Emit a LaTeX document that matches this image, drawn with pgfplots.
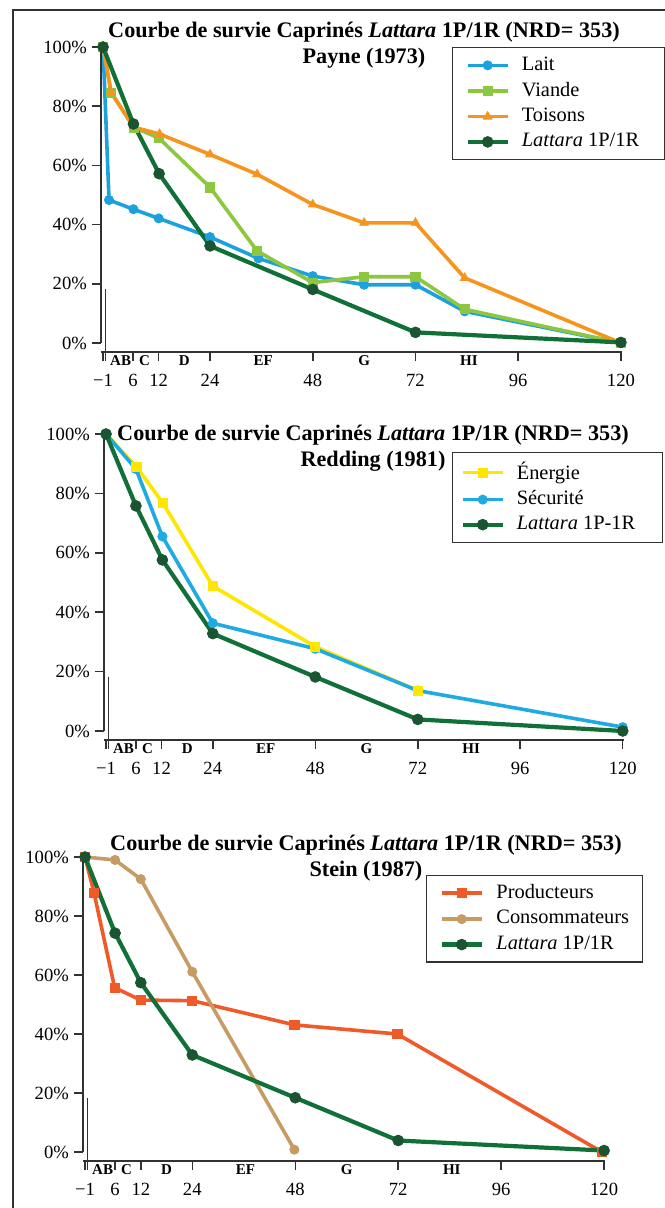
\documentclass[border=0pt]{standalone}
\usepackage{fontspec}
\setmainfont{Liberation Serif}
\usepackage{pgfplots}
\pgfplotsset{compat=1.18}

\definecolor{lait}{RGB}{29,161,222}
\definecolor{viande}{RGB}{141,198,63}
\definecolor{toison}{RGB}{247,148,29}
\definecolor{latt}{RGB}{16,112,56}
\definecolor{lattm}{RGB}{26,84,48}
\definecolor{energie}{RGB}{255,230,0}
\definecolor{secu}{RGB}{32,170,226}
\definecolor{prod}{RGB}{240,90,40}
\definecolor{cons}{RGB}{198,156,100}
\definecolor{axisgray}{RGB}{50,50,50}

\pgfplotsset{
  survie/.style={
    scale only axis, clip=false,
    xmin=-1.5, xmax=120.3, ymin=-3, ymax=100,
    axis x line*=bottom, axis y line*=left,
    y axis line style={draw=none},
    x axis line style={draw=axisgray, line width=0.75pt, -},
    tick align=outside,
    major tick length=4.5pt,
    tick style={draw=axisgray, line width=0.75pt},
    xtick={-1,6,12,24,48,72,96,120},
    xticklabels={−1,6,12,24,48,72,96,120},
    extra x ticks={-0.4}, extra x tick labels={},
    ytick={0,20,40,60,80,100},
    yticklabels={0\%,20\%,40\%,60\%,80\%,100\%},
    ticklabel style={font=\fontsize{9.3}{10}\selectfont, text=black},
    yticklabel style={xshift=1pt},
    xticklabel style={yshift=-3pt},
    legend cell align=left,
    legend style={draw=axisgray, line width=0.6pt, font=\fontsize{10.2}{12}\selectfont,
      anchor=north west, nodes={inner sep=0pt, text depth=0.2em}, column sep=6pt,
      inner xsep=6.5pt, inner ysep=4.5pt, row sep=3.9pt},
    legend image code/.code={\draw[mark repeat=2,mark phase=2] plot coordinates {(0pt,0pt)(10pt,0pt)(20pt,0pt)};},
    title style={font=\bfseries\fontsize{11.1}{13}\selectfont, align=center, anchor=center, yshift=-7.25pt},
  },
  ser/.style={line width=1.8pt, mark size=2.3pt, mark options={solid, line width=0.4pt}},
  lat/.style={latt, line width=2.1pt, mark=*, mark size=2.7pt, mark options={fill=lattm, draw=lattm, line width=0.4pt}},
}

\newcommand{\classes}{%
  \node[font=\bfseries\fontsize{7.5}{8}\selectfont, yshift=-4.5pt] at (axis cs:3.1,-3) {AB};
  \node[font=\bfseries\fontsize{7.5}{8}\selectfont, yshift=-4.5pt] at (axis cs:8.7,-3) {C};
  \node[font=\bfseries\fontsize{7.5}{8}\selectfont, yshift=-4.5pt] at (axis cs:18,-3) {D};
  \node[font=\bfseries\fontsize{7.5}{8}\selectfont, yshift=-4.5pt] at (axis cs:36.4,-3) {EF};
  \node[font=\bfseries\fontsize{7.5}{8}\selectfont, yshift=-4.5pt] at (axis cs:60,-3) {G};
  \node[font=\bfseries\fontsize{7.5}{8}\selectfont, yshift=-4.5pt] at (axis cs:84.5,-3) {HI};
  \draw[axisgray, line width=0.75pt] (axis cs:-1.5,0) -- (axis cs:-1.5,100);
  \draw[axisgray, line width=0.75pt] (axis cs:-0.4,18.3) -- (axis cs:-0.4,-3);
}

\begin{document}
\begin{tikzpicture}
\useasboundingbox (0,0) rectangle (332pt,-604pt);
\fill[white] (0,0) rectangle (332pt,-604pt);
\draw[axisgray, line width=1.3pt] (6.5pt,-610pt) -- (6.5pt,-5pt) -- (340pt,-5pt);

% ---------- Chart 1 : Payne ----------
\begin{axis}[survie,
  at={(50.45pt,-175.95pt)}, anchor=south west,
  width=260.65pt, height=152.45pt,
  title={Courbe de survie Caprinés \textit{Lattara} 1P/1R (NRD= 353)\\Payne (1973)},
  title style={at={(0.5047,1.0131)}},
  legend style={at={(0.6735,1.0)}},
]
\addplot[ser, lait, mark=*] coordinates {(-1,100) (0.4,48.3) (6.1,45.2) (12,42.1) (24,35.8) (35.3,28.6) (48,22.6) (60,19.7) (72,19.7) (83.5,10.7) (120,0)};
\addlegendentry{\makebox[65pt][l]{Lait}}
\addplot[ser, viande, mark=square*] coordinates {(-1,100) (0.9,84.6) (6.2,72.8) (12,69.3) (24,52.6) (35,31.1) (48,20.4) (60,22.4) (72,22.4) (83.5,11.4) (120,0)};
\addlegendentry{Viande}
\addplot[ser, toison, mark=triangle*, mark size=2.5pt] coordinates {(-1,100) (0.9,84.6) (6.2,72.9) (12.2,70.6) (24,63.7) (35,57) (48,46.8) (60,40.6) (72,40.6) (83.5,22) (120,0)};
\addlegendentry{Toisons}
\addplot[lat] coordinates {(-1,100) (6.1,74) (12.1,57.2) (24,32.8) (48,18.1) (72,3.6) (120,0.2)};
\addlegendentry{\textit{Lattara} 1P/1R}
\classes
\end{axis}

% ---------- Chart 2 : Redding ----------
\begin{axis}[survie,
  at={(51.95pt,-369.95pt)}, anchor=south west,
  width=260.05pt, height=152.95pt,
  title={Courbe de survie Caprinés \textit{Lattara} 1P/1R (NRD= 353)\\Redding (1981)},
  title style={at={(0.5174,0.9624)}},
  legend style={at={(0.6693,0.9411)}, inner xsep=4pt, inner ysep=4.6pt, row sep=3.6pt},
]
\addplot[ser, energie, forget plot] coordinates {(-1,100) (6.1,89) (12.3,76.8) (24,48.8) (48,28.4) (72,13.6)};
\addplot[ser, secu, mark=*, forget plot] coordinates {(-1,100) (6,88.2) (12.2,65.5) (24,36.3) (48,27.7) (72,13.6) (120,1.3)};
\addplot[energie, only marks, mark=square*, mark size=2.3pt, mark options={line width=0.4pt}, forget plot] coordinates {(6.1,89) (12.3,76.8) (24,48.8) (48,28.4) (72,13.6)};
\addplot[lat, forget plot] coordinates {(-1,100) (6,75.8) (12.2,57.6) (24,32.8) (48,18.2) (72,3.9) (120,0)};
\addlegendimage{ser, energie, mark=square*}
\addlegendentry{\makebox[69pt][l]{Énergie}}
\addlegendimage{ser, secu, mark=*}
\addlegendentry{Sécurité}
\addlegendimage{lat}
\addlegendentry{\textit{Lattara} 1P-1R}
\classes
\end{axis}

% ---------- Chart 3 : Stein ----------
\begin{axis}[survie,
  at={(41.45pt,-580.43pt)}, anchor=south west,
  width=261.25pt, height=151.93pt,
  title={Courbe de survie Caprinés \textit{Lattara} 1P/1R (NRD= 353)\\Stein (1987)},
  title style={at={(0.5418,1.005)}},
  legend style={at={(0.6567,0.9408)}, inner xsep=6.5pt, inner ysep=4.3pt, row sep=4pt, column sep=6.3pt},
]
\addplot[ser, prod, mark=square*] coordinates {(-1,100) (1.1,87.8) (5.9,55.7) (12,51.5) (24,51.3) (47.8,43.1) (71.8,40) (119.5,0)};
\addlegendentry{\makebox[66.5pt][l]{Producteurs}}
\addplot[ser, cons, mark=*] coordinates {(-1,100) (6,99) (12,92.5) (24,61.1) (47.8,0.8)};
\addlegendentry{Consommateurs}
\addplot[lat] coordinates {(-1,100) (6,74.2) (12,57.4) (24,32.9) (48,18.4) (72,3.9) (120,0.5)};
\addlegendentry{\textit{Lattara} 1P/1R}
\classes
\end{axis}
\end{tikzpicture}
\end{document}
